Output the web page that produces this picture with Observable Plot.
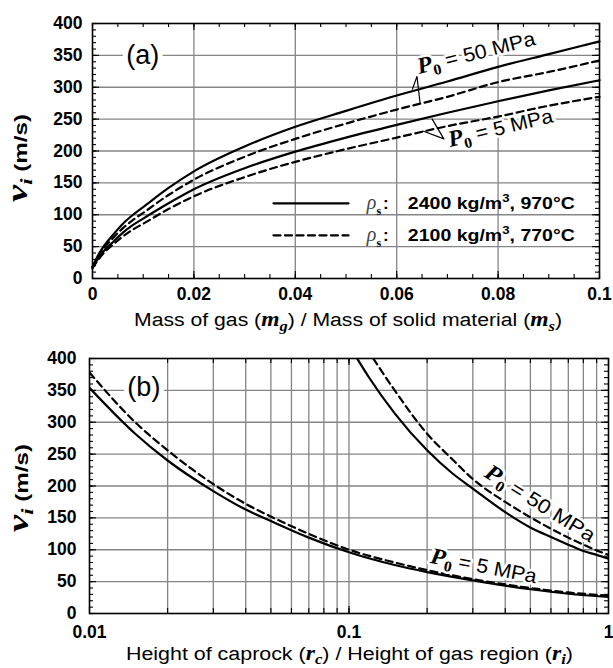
<!DOCTYPE html>
<html><head><meta charset="utf-8">
<script src="https://cdn.jsdelivr.net/npm/d3@7"></script>
<script src="https://cdn.jsdelivr.net/npm/@observablehq/plot@0.6"></script>
<style>
body{margin:0;background:#fff;}
#wrap{position:relative;width:613px;height:668px;overflow:hidden;background:#fff;}
#wrap svg{position:absolute;left:0;overflow:visible;}
</style></head><body><div id="wrap"></div>
<script>
// ---------- Panel (a) data ----------
const massRatio = [0,0.001,0.002,0.004,0.006,0.008,0.01,0.015,0.02,0.03,0.04,0.05,0.06,0.07,0.08,0.09,0.1];
const vSolid50 = [18,35,48,68,86,100,112,142,168,207,238,263,287,309,332,352,372];
const vDash50  = [18,33,45,63,79,92,103,131,155,191,219,243,265,285,308,324,342];
const vSolid5  = [17,30,41,57,72,84,94,118,140,173,199,221,241,260,278,295,311];
const vDash5   = [16,28,38,53,66,77,86,109,129,159,183,203,221,239,254,271,285];
const xTicksA = [0,0.02,0.04,0.06,0.08,0.1];
const xTickLabelsA = ["0","0.02","0.04","0.06","0.08","0.1"];

// ---------- Panel (b) data ----------
const ratioB5 = [0.01,0.015,0.02,0.03,0.04,0.05,0.07,0.1,0.15,0.2,0.3,0.5,0.7,1];
const vSolidB5 = [354,282,240,192,163,145,119,96,76,65,52,38,31,26];
const vDashB5  = [378,300,256,203,172,152,125,100,80,68,54,40,33,28];
const ratioS50 = [0.1075,0.12,0.15,0.2,0.25,0.3,0.4,0.5,0.6,0.7,0.8,0.9,1];
const vSolidB50 = [400,369,314,256,220,196,159,135,120,108,98,92,86];
const ratioD50 = [0.124,0.15,0.2,0.25,0.3,0.4,0.5,0.6,0.7,0.8,0.9,1];
const vDashB50 = [400,350,282,242,211,175,151,133,119,108,99,92];
const xTicksB = [0.01,0.1,1];
const xTickLabelsB = ["0.01","0.1","1"];
const xGridB = [0.02,0.03,0.04,0.05,0.06,0.07,0.08,0.09,0.1,0.2,0.3,0.4,0.5,0.6,0.7,0.8,0.9];

// shared y
const yTicks = [0,50,100,150,200,250,300,350,400];
const yGrid = [50,100,150,200,250,300,350];
const yMinor = d3.range(0, 401, 10);
const xMinorA = d3.range(0, 0.10001, 0.005);

// legend / annotation anchors (data units)
const legendLineX = [0.0357, 0.0505];
const legendRowV = [118, 67.5];
const legendTextX = [0.0542, 0.0623];
const leader50 = [[0.0631,297],[0.0640,317],[0.0646,276]];
const leader5 = [[0.0670,250],[0.0693,219],[0.0653,231]];

const FONT = '"Liberation Sans", Arial, Helvetica, sans-serif';
const SERIF = '"Liberation Serif", "Times New Roman", Times, serif';
const GRID = "#858585";
const W = 613, H = 334;

const pts = (xs, ys) => xs.map((x, i) => ({x, y: ys[i]}));

function frameTicks(xs, ys, innerW, innerH, lenX, lenY) {
  const o = {x: d => d, stroke: "black", strokeWidth: 1.1};
  const p = {y: d => d, stroke: "black", strokeWidth: 1.1};
  return [
    Plot.tickX(xs, {...o, insetTop: innerH - lenX}),
    Plot.tickX(xs, {...o, insetBottom: innerH - lenX}),
    Plot.tickY(ys, {...p, insetRight: innerW - lenY}),
    Plot.tickY(ys, {...p, insetLeft: innerW - lenY})
  ];
}

function rich(svg, x, y, angle, parts, anchor = "start", halo = false, len = null) {
  const t = d3.select(svg).append("text")
    .attr("transform", `translate(${x},${y}) rotate(${angle})`)
    .attr("text-anchor", anchor).attr("fill", "black");
  if (len) t.attr("textLength", len).attr("lengthAdjust", "spacingAndGlyphs");
  if (halo) t.attr("stroke", "white").attr("stroke-width", 5).attr("paint-order", "stroke").attr("stroke-linejoin", "round");
  let shift = 0;
  for (const p of parts) {
    const s = t.append("tspan").text(p.t)
      .attr("font-family", p.ff || FONT).attr("font-size", p.fs || 18)
      .attr("font-style", p.it ? "italic" : "normal")
      .attr("font-weight", p.b ? "bold" : "normal");
    const sh = p.sh || 0;
    if (sh - shift) s.attr("dy", sh - shift);
    shift = sh;
    if (p.dx) s.attr("dx", p.dx);
    if (p.fill) s.attr("fill", p.fill);
  }
  return t;
}

const P0 = (rest) => [
  {t: "P", ff: SERIF, fs: 23, it: true, b: true},
  {t: "0", ff: SERIF, fs: 15, b: true, sh: 5},
  {t: " = " + rest, fs: 20, sh: 0}
];
const yTitle = [
  {t: "v", ff: SERIF, fs: 29, it: true, b: true},
  {t: "i", ff: SERIF, fs: 17, it: true, b: true, sh: 5},
  {t: " (m/s)", fs: 18, b: true, sh: 0}
];

// ---------- Panel (a) ----------
const mA = {l: 92, r: 14, t: 23, b: 56};
const iwA = W - mA.l - mA.r, ihA = H - mA.t - mA.b;
const lineOpt = {x: "x", y: "y", curve: "monotone-x", stroke: "black", strokeWidth: 2.2};
const dashOpt = {...lineOpt, strokeDasharray: "7,4.5"};
const STYLE = {fontFamily: FONT, fontSize: "17.5px", fontWeight: "bold", background: "white", color: "black", overflow: "visible"};

const plotA = Plot.plot({
  width: W, height: H,
  marginLeft: mA.l, marginRight: mA.r, marginTop: mA.t, marginBottom: mA.b,
  x: {domain: [0, 0.1]}, y: {domain: [0, 400]},
  style: STYLE,
  marks: [
    Plot.gridX(xTicksA.slice(1, -1), {stroke: GRID, strokeOpacity: 1, strokeWidth: 1.3}),
    Plot.gridY(yGrid, {stroke: GRID, strokeOpacity: 1, strokeWidth: 1.3}),
    ...frameTicks(xMinorA, yMinor, iwA, ihA, 4, 4),
    ...frameTicks(xTicksA, yTicks, iwA, ihA, 7, 7),
    Plot.line(pts(massRatio, vSolid50), lineOpt),
    Plot.line(pts(massRatio, vDash50), dashOpt),
    Plot.line(pts(massRatio, vSolid5), lineOpt),
    Plot.line(pts(massRatio, vDash5), dashOpt),
    Plot.line(leader50, {x: d => d[0], y: d => d[1], stroke: "black", strokeWidth: 1.2}),
    Plot.line(leader5, {x: d => d[0], y: d => d[1], stroke: "black", strokeWidth: 1.2}),
    Plot.line(legendLineX.map(x => ({x, y: legendRowV[0]})), {x: "x", y: "y", stroke: "black", strokeWidth: 2.2}),
    Plot.line(legendLineX.map(x => ({x, y: legendRowV[1]})), {x: "x", y: "y", stroke: "black", strokeWidth: 2.2, strokeDasharray: "7,4.5"}),
    Plot.text(["(a)"], {x: 0.0099, y: 350, text: d => d, fontSize: 27, fontWeight: "normal", stroke: "white", strokeWidth: 10, fill: "black"}),
    Plot.frame({stroke: "black", strokeWidth: 1.6}),
    Plot.axisX(xTicksA, {tickSize: 0, tickPadding: 9, label: null, tickFormat: (d) => xTickLabelsA[xTicksA.indexOf(d)]}),
    Plot.axisY(yTicks, {tickSize: 0, tickPadding: 10, label: null})
  ]
});
plotA.style.top = "0px";
document.getElementById("wrap").appendChild(plotA);
{
  const sx = plotA.scale("x"), sy = plotA.scale("y");
  rich(plotA, sx.apply(0.0645), sy.apply(320), -14, P0("50 MPa"), "start", true, 121);
  rich(plotA, sx.apply(0.0706), sy.apply(205.5), -13.5, P0("5 MPa"), "start", true, 107);
  const desc = ["2400 kg/m", "2100 kg/m"], tail = [", 970°C", ", 770°C"];
  legendRowV.forEach((v, i) => {
    rich(plotA, sx.apply(legendTextX[0]), sy.apply(v) + 6, 0, [
      {t: "ρ", ff: SERIF, fs: 20, it: true, fill: "#444"},
      {t: "s", ff: SERIF, fs: 12, b: true, sh: 6},
      {t: ":", fs: 17, b: true, sh: 0, dx: 2}
    ]);
    rich(plotA, sx.apply(legendTextX[1]), sy.apply(v) + 6.5, 0, [
      {t: desc[i], fs: 17, b: true},
      {t: "3", fs: 11.5, b: true, sh: -7},
      {t: tail[i], fs: 17, b: true, sh: 0}
    ], "start", false, 167);
  });
  rich(plotA, 348, 326, 0, [
    {t: "Mass of gas (", fs: 18},
    {t: "m", ff: SERIF, fs: 20, it: true, b: true},
    {t: "g", ff: SERIF, fs: 14, it: true, b: true, sh: 5},
    {t: ") / Mass of solid material (", fs: 18, sh: 0},
    {t: "m", ff: SERIF, fs: 20, it: true, b: true},
    {t: "s", ff: SERIF, fs: 14, it: true, b: true, sh: 5},
    {t: ")", fs: 18, sh: 0}
  ], "middle", false, 428);
  rich(plotA, 27, 158, -90, yTitle, "middle", false, 88);
}

// ---------- Panel (b) ----------
const mB = {l: 89, r: 5, t: 24, b: 55};
const iwB = W - mB.l - mB.r, ihB = H - mB.t - mB.b;
const plotB = Plot.plot({
  width: W, height: H,
  marginLeft: mB.l, marginRight: mB.r, marginTop: mB.t, marginBottom: mB.b,
  x: {type: "log", domain: [0.01, 1]}, y: {domain: [0, 400]},
  style: STYLE,
  marks: [
    Plot.gridX(xGridB, {stroke: GRID, strokeOpacity: 1, strokeWidth: 1.3}),
    Plot.gridY(yGrid, {stroke: GRID, strokeOpacity: 1, strokeWidth: 1.3}),
    ...frameTicks(xGridB, yMinor, iwB, ihB, 5, 4),
    ...frameTicks(xTicksB, yTicks, iwB, ihB, 7, 7),
    Plot.line(pts(ratioB5, vSolidB5), {...lineOpt, clip: true}),
    Plot.line(pts(ratioB5, vDashB5), {...dashOpt, clip: true}),
    Plot.line(pts(ratioS50, vSolidB50), {...lineOpt, clip: true}),
    Plot.line(pts(ratioD50, vDashB50), {...dashOpt, clip: true}),
    Plot.text(["(b)"], {x: 0.0162, y: 354, text: d => d, fontSize: 27, fontWeight: "normal", stroke: "white", strokeWidth: 10, fill: "black"}),
    Plot.frame({stroke: "black", strokeWidth: 1.6}),
    Plot.axisX(xTicksB, {tickSize: 0, tickPadding: 12, label: null, tickFormat: (d) => xTickLabelsB[xTicksB.indexOf(d)]}),
    Plot.axisY(yTicks, {tickSize: 0, tickPadding: 13, label: null})
  ]
});
plotB.style.top = "334px";
document.getElementById("wrap").appendChild(plotB);
{
  const sx = plotB.scale("x"), sy = plotB.scale("y");
  rich(plotB, sx.apply(0.33), sy.apply(215), 32, P0("50 MPa"), "start", true, 126);
  rich(plotB, sx.apply(0.205), sy.apply(79), 11, P0("5 MPa"), "start", true, 108);
  rich(plotB, 349.5, 326, 0, [
    {t: "Height of caprock (", fs: 18},
    {t: "r", ff: SERIF, fs: 20, it: true, b: true},
    {t: "c", ff: SERIF, fs: 14, it: true, b: true, sh: 4},
    {t: ") / Height of gas region (", fs: 18, sh: 0},
    {t: "r", ff: SERIF, fs: 20, it: true, b: true},
    {t: "i", ff: SERIF, fs: 14, it: true, b: true, sh: 4},
    {t: ")", fs: 18, sh: 0}
  ], "middle", false, 447);
  rich(plotB, 28, 154, -90, yTitle, "middle", false, 88);
}
</script></body></html>
